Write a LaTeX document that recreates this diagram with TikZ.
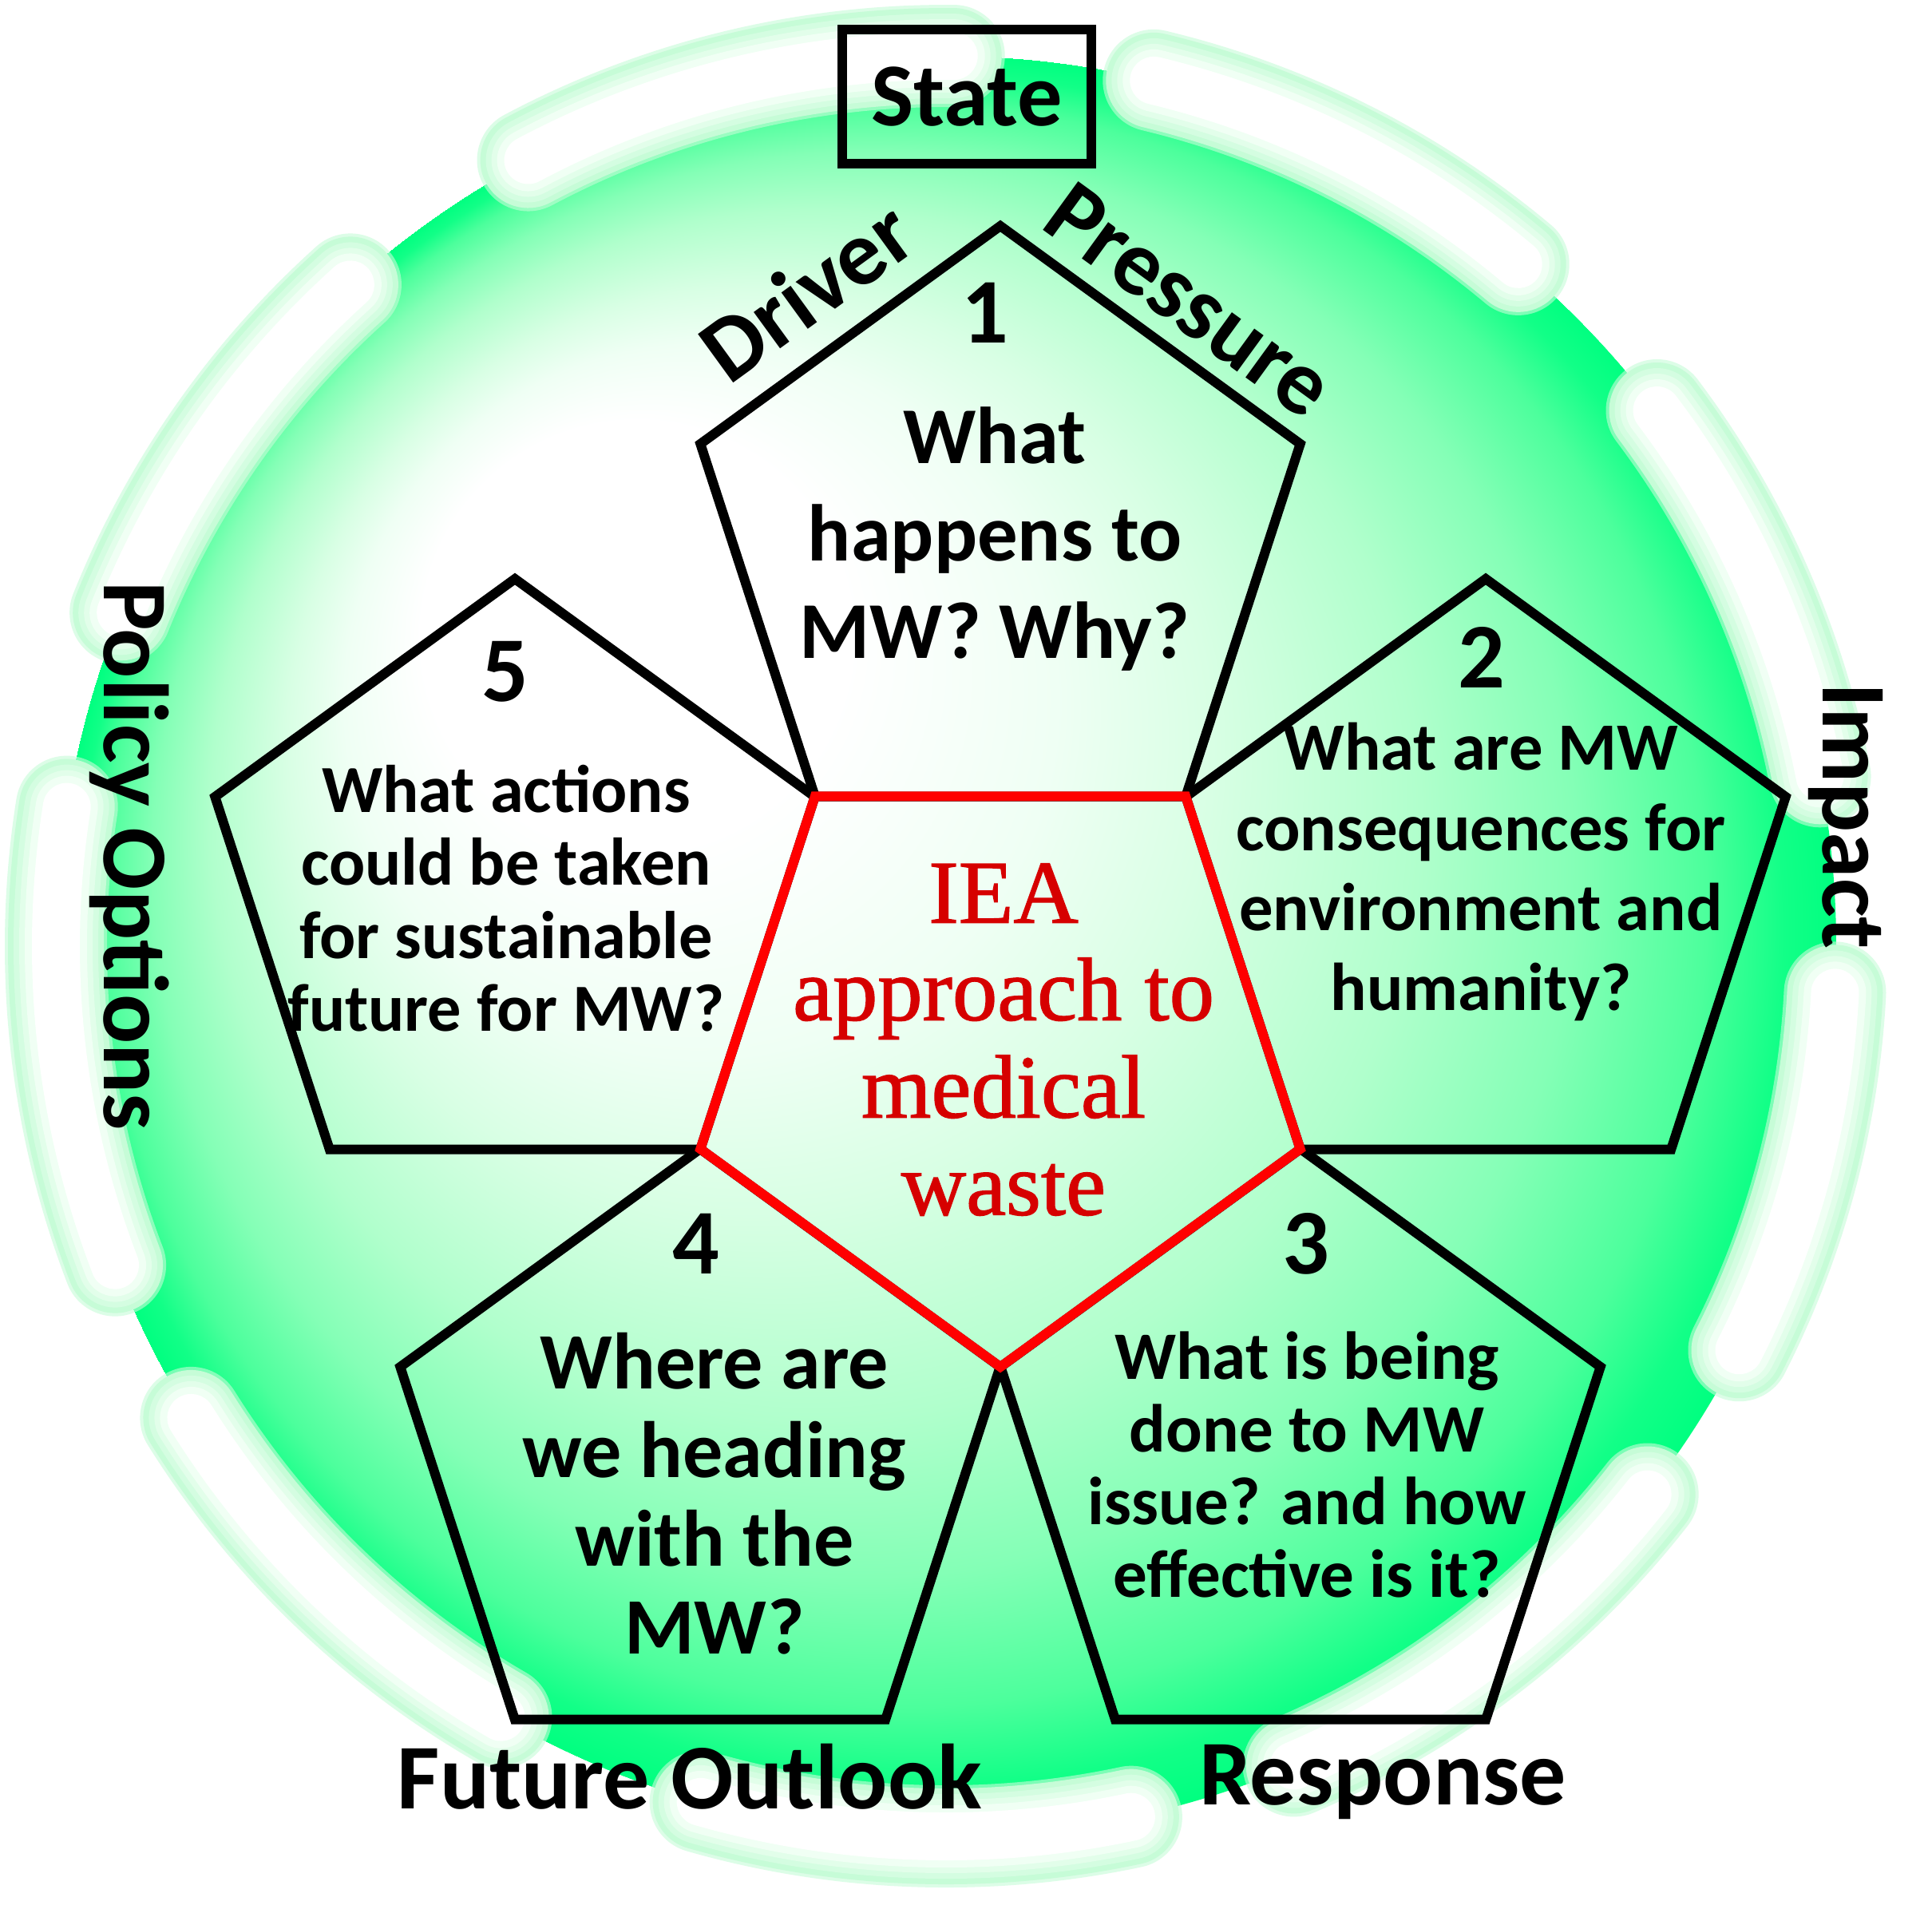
\documentclass[tikz,border=0pt]{standalone}
\usepackage{fontspec}
\setmainfont{Carlito}
\newfontfamily\ieafont[FakeBold=1.2]{Liberation Serif}
\usetikzlibrary{shapes.geometric}

\definecolor{rimgreen}{HTML}{00FF80}
\definecolor{deepmint}{HTML}{12FF87}
\definecolor{midmint}{HTML}{4CFF9C}
\definecolor{softmint}{HTML}{84FFB6}
\definecolor{lightmint}{HTML}{B0FFCC}
\definecolor{palemint}{HTML}{D8FFE4}
\definecolor{ghostmint}{HTML}{EFFFF4}
\definecolor{pillA}{HTML}{C6FCD7}
\definecolor{pillB}{HTML}{D4FDE1}
\definecolor{pillC}{HTML}{E2FEEA}
\definecolor{pillD}{HTML}{F0FFF4}
\definecolor{ieared}{HTML}{D60000}
\definecolor{iearim}{HTML}{FF0000}

\pgfdeclareradialshading{diskglow}{\pgfpoint{-11.5bp}{11.5bp}}{%
  color(0bp)=(white); color(6bp)=(white); color(10bp)=(ghostmint);
  color(13bp)=(palemint); color(17bp)=(lightmint); color(20bp)=(softmint);
  color(22.5bp)=(midmint); color(24bp)=(deepmint); color(25bp)=(rimgreen)}

\begin{document}
\begin{tikzpicture}[
  petal/.style={regular polygon, regular polygon sides=5, minimum size=7.9cm,
    inner sep=0pt, draw=black, line width=1.2mm},
  core/.style={petal, draw=iearim, shape border rotate=180},
  pill/.style={line cap=round},
  tag/.style={font=\bfseries\fontsize{33}{36}\selectfont, inner sep=0pt},
  num/.style={font=\bfseries\fontsize{33}{36}\selectfont, inner sep=0pt},
  ask/.style={align=center, inner sep=0pt},
  ieatext/.style={align=center, inner sep=0pt, text=ieared,
    font=\ieafont\fontsize{32}{34.7}\selectfont},
  statebox/.style={draw, line width=1.2mm, minimum width=3.12cm, minimum height=1.68cm,
    inner sep=0pt, font=\bfseries\fontsize{32}{36}\selectfont}
]
\useasboundingbox (0,0) rectangle (24.2,-23.95);
\fill[white] (0,0) rectangle (24.2,-23.95);

\coordinate (hub) at (11.85,-11.85);
\shade[shading=diskglow] (hub) circle (11.15);

\foreach \from/\to in {89.5/118, 50/76.5, 11/37, -27/-3, -67/-38, -106/-78,
    -148/-120, 171/201, 132/158}
  \foreach \w/\c/\o in {12.8/pillA/0.6, 12/pillA/1, 10.6/pillB/1, 9.2/pillC/1,
      7.8/pillD/1, 6/white/1}
    \draw[pill, line width=\w mm, draw=\c, draw opacity=\o] (hub) ++(\from:11.15)
      arc[start angle=\from, end angle=\to, radius=11.15];

\node[petal] (p1) at (12.53,-6.78) {};
\node[petal] (p2) at (18.61,-11.20) {};
\node[petal] (p3) at (16.29,-18.34) {};
\node[petal] (p4) at (8.77,-18.34) {};
\node[petal] (p5) at (6.45,-11.20) {};
\node[core] (iea) at (12.53,-13.17) {};

\node[statebox] (state) at (12.11,-1.21) {State};
\node[tag, rotate=36] (driver) at (10.10,-3.64) {Driver};
\node[tag, rotate=-36] (pressure) at (14.90,-3.76) {Pressure};
\node[tag, rotate=-90] (impact) at (23.12,-10.22) {Impact};
\node[tag, anchor=base] (response) at (17.32,-22.60) {Response};
\node[tag, anchor=base] (outlook) at (8.64,-22.65) {Future Outlook};
\node[tag, rotate=-90] (policy) at (1.62,-10.72) {Policy Options};

\node[num] (n1) at (12.34,-3.92) {1};
\node[num] (n2) at (18.56,-8.23) {2};
\node[num] (n3) at (16.36,-15.58) {3};
\node[num] (n4) at (8.72,-15.58) {4};
\node[num] (n5) at (6.33,-8.41) {5};

\node[ask, font=\bfseries\fontsize{28.7}{34.7}\selectfont] (q1) at (12.46,-6.75)
  {What\\happens to\\MW? Why?};
\node[ask, font=\bfseries\fontsize{24.1}{28.5}\selectfont] (q2) at (18.55,-10.92)
  {What are MW\\consequences for\\environment and\\humanity?};
\node[ask, font=\bfseries\fontsize{24.2}{25.9}\selectfont] (q3) at (16.37,-18.34)
  {What is being\\done to MW\\issue? and how\\effective is it?};
\node[ask, font=\bfseries\fontsize{28.5}{31.5}\selectfont] (q4) at (8.95,-18.71)
  {Where are\\we heading\\with the\\MW?};
\node[ask, font=\bfseries\fontsize{24}{26}\selectfont] (q5) at (6.34,-11.25)
  {What actions\\could be taken\\for sustainable\\future for MW?};

\node[ieatext] (ieatxt) at (12.57,-13.02) {IEA\\approach to\\medical\\waste};
\end{tikzpicture}
\end{document}
